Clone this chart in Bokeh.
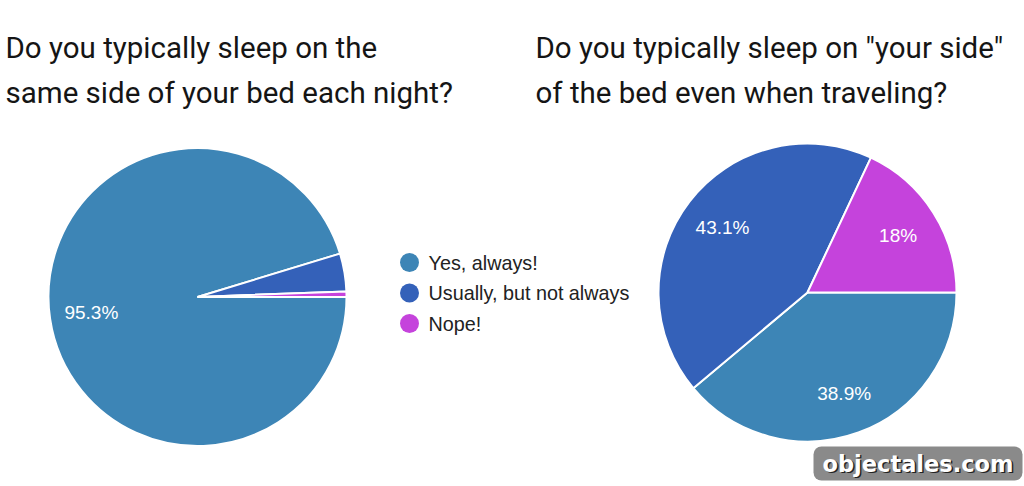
import numpy as np
from bokeh.plotting import figure
from bokeh.models import Range1d, ColumnDataSource
from bokeh.core.properties import value
from bokeh.embed import file_html
from bokeh.resources import INLINE

# ---- data ----
categories = ["Yes, always!", "Usually, but not always", "Nope!"]
colors = ["#3d85b6", "#3461b9", "#c543dc"]
q1_title = ["Do you typically sleep on the", "same side of your bed each night?"]
q2_title = ['Do you typically sleep on "your side"', "of the bed even when traveling?"]
q1_values = [95.3, 4.1, 0.6]
q2_values = [38.9, 43.1, 18.0]
q1_labels = ["95.3%", "", ""]
q2_labels = ["38.9%", "43.1%", "18%"]
watermark = "objectales.com"

W, H = 1024, 486
p = figure(width=W, height=H, output_backend="svg", toolbar_location=None,
           x_range=Range1d(0, W), y_range=Range1d(0, H), min_border=0)
p.axis.visible = False
p.grid.visible = False
p.outline_line_color = None
p.background_fill_color = "white"
p.border_fill_color = "white"

def Y(ref_y):
    return H - ref_y

def X(ref_x):
    return ref_x

R = 149

def pie(cx, cy, vals, labels):
    v = np.array(vals, dtype=float)
    frac = v / v.sum()
    cum = np.concatenate([[0], np.cumsum(frac)])
    # clockwise from 3 o'clock
    start = -cum[1:] * 2 * np.pi
    end = -cum[:-1] * 2 * np.pi
    src = ColumnDataSource(dict(start=start, end=end, color=colors))
    p.wedge(x=cx, y=cy, radius=R, start_angle="start", end_angle="end",
            fill_color="color", line_color="white", line_width=2, source=src)
    mid = (start + end) / 2
    lx = cx + 0.72 * R * np.cos(mid)
    ly = cy + 0.72 * R * np.sin(mid)
    lsrc = ColumnDataSource(dict(x=lx, y=ly, t=labels))
    p.text(x="x", y="y", text="t", source=lsrc, text_color="white",
           text_font=value("Liberation Sans"), text_font_size="19px",
           text_align="center", text_baseline="middle")

pie(X(197), Y(296.5), q1_values, q1_labels)
pie(X(807), Y(292), q2_values, q2_labels)

# titles
for i, line in enumerate(q1_title):
    p.text(x=[X(5)], y=[Y(47 + 45 * i)], text=[line], text_color="#151515",
           text_font=value("Roboto"), text_font_size="29.5px",
           text_baseline="middle", text_align="left")
for i, line in enumerate(q2_title):
    p.text(x=[X(535)], y=[Y(47 + 45 * i)], text=[line], text_color="#151515",
           text_font=value("Roboto"), text_font_size="29.5px",
           text_baseline="middle", text_align="left")

# legend
ly = [Y(262), Y(292.5), Y(323)]
p.scatter(x=[X(409)] * 3, y=ly, size=19, marker="circle", fill_color=colors, line_color=None)
p.text(x=[X(428)] * 3, y=ly, text=categories, text_color="#222222",
       text_font=value("Liberation Sans"), text_font_size="19.8px",
       text_baseline="middle", text_align="left")

# watermark
bx0, bx1 = X(813), X(1022)
wx = (bx0 + bx1) / 2
p.rect(x=[wx], y=[Y(463)], width=[bx1 - bx0], height=[34],
       fill_color="#8a8a8a", line_color=None, border_radius=8)
p.text(x=[wx + 1.5], y=[Y(463) - 1.5], text=[watermark], text_color="#222222",
       text_font=value("DejaVu Sans"), text_font_style="bold", text_font_size="22.5px",
       text_align="center", text_baseline="middle")
p.text(x=[wx], y=[Y(463)], text=[watermark], text_color="white",
       text_font=value("DejaVu Sans"), text_font_style="bold", text_font_size="22.5px",
       text_align="center", text_baseline="middle")

open("out.html", "w").write(file_html(p, INLINE))
